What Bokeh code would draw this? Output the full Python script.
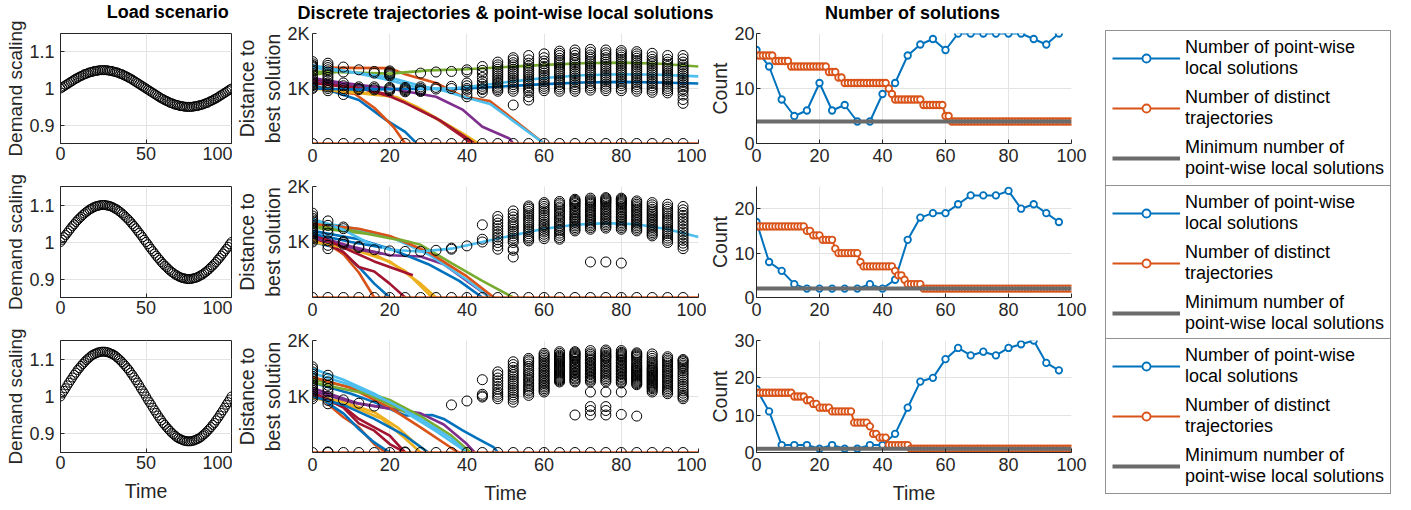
from bokeh.plotting import figure
from bokeh.layouts import row, column
from bokeh.models import Range1d, FixedTicker, Legend, LegendItem, Label
from bokeh.embed import file_html
from bokeh.resources import INLINE

# ------------------------------------------------------------------ data
time_fine = list(range(0, 101))        # every time step
time_coarse = list(range(0, 100, 4))   # steps where local solutions are computed

scenario_titles = ["Load scenario", "Discrete trajectories & point-wise local solutions",
                   "Number of solutions"]

# demand scaling of the three load scenarios
demand_low = [
    1.000, 1.003, 1.006, 1.009, 1.012, 1.015, 1.018, 1.021, 1.024, 1.027, 1.029, 1.032, 1.034,
    1.036, 1.039, 1.040, 1.042, 1.044, 1.045, 1.046, 1.048, 1.048, 1.049, 1.050, 1.050, 1.050,
    1.050, 1.050, 1.049, 1.048, 1.048, 1.046, 1.045, 1.044, 1.042, 1.040, 1.039, 1.036, 1.034,
    1.032, 1.029, 1.027, 1.024, 1.021, 1.018, 1.015, 1.012, 1.009, 1.006, 1.003, 1.000,
    0.997, 0.994, 0.991, 0.988, 0.985, 0.982, 0.979, 0.976, 0.973, 0.971, 0.968, 0.966, 0.964,
    0.961, 0.960, 0.958, 0.956, 0.955, 0.954, 0.952, 0.952, 0.951, 0.950, 0.950, 0.950,
    0.950, 0.950, 0.951, 0.952, 0.952, 0.954, 0.955, 0.956, 0.958, 0.960, 0.961, 0.964, 0.966,
    0.968, 0.971, 0.973, 0.976, 0.979, 0.982, 0.985, 0.988, 0.991, 0.994, 0.997, 1.000]
demand_mid = [
    1.000, 1.006, 1.013, 1.019, 1.025, 1.031, 1.037, 1.043, 1.048, 1.054, 1.059, 1.064, 1.068,
    1.073, 1.077, 1.081, 1.084, 1.088, 1.090, 1.093, 1.095, 1.097, 1.098, 1.099, 1.100, 1.100,
    1.100, 1.099, 1.098, 1.097, 1.095, 1.093, 1.090, 1.088, 1.084, 1.081, 1.077, 1.073, 1.068,
    1.064, 1.059, 1.054, 1.048, 1.043, 1.037, 1.031, 1.025, 1.019, 1.013, 1.006, 1.000,
    0.994, 0.987, 0.981, 0.975, 0.969, 0.963, 0.957, 0.952, 0.946, 0.941, 0.936, 0.932, 0.927,
    0.923, 0.919, 0.916, 0.912, 0.910, 0.907, 0.905, 0.903, 0.902, 0.901, 0.900, 0.900,
    0.900, 0.901, 0.902, 0.903, 0.905, 0.907, 0.910, 0.912, 0.916, 0.919, 0.923, 0.927, 0.932,
    0.936, 0.941, 0.946, 0.952, 0.957, 0.963, 0.969, 0.975, 0.981, 0.987, 0.994, 1.000]
demand_high = [
    1.000, 1.008, 1.015, 1.022, 1.030, 1.037, 1.044, 1.051, 1.058, 1.064, 1.071, 1.076, 1.082,
    1.087, 1.092, 1.097, 1.101, 1.105, 1.109, 1.112, 1.114, 1.116, 1.118, 1.119, 1.120, 1.120,
    1.120, 1.119, 1.118, 1.116, 1.114, 1.112, 1.109, 1.105, 1.101, 1.097, 1.092, 1.087, 1.082,
    1.076, 1.071, 1.064, 1.058, 1.051, 1.044, 1.037, 1.030, 1.022, 1.015, 1.008, 1.000,
    0.992, 0.985, 0.978, 0.970, 0.963, 0.956, 0.949, 0.942, 0.936, 0.929, 0.924, 0.918, 0.913,
    0.908, 0.903, 0.899, 0.895, 0.891, 0.888, 0.886, 0.884, 0.882, 0.881, 0.880, 0.880,
    0.880, 0.881, 0.882, 0.884, 0.886, 0.888, 0.891, 0.895, 0.899, 0.903, 0.908, 0.913, 0.918,
    0.924, 0.929, 0.936, 0.942, 0.949, 0.956, 0.963, 0.970, 0.978, 0.985, 0.992, 1.000]

# number of distinct trajectories at every time step
distinct_low = [
    16, 16, 16, 16, 16, 16, 15, 15, 15, 15, 15,
    14, 14, 14, 14, 14, 14, 14, 14, 14, 14, 14, 14,
    13, 13, 13, 12, 12,
    11, 11, 11, 11, 11, 11, 11, 11, 11, 11, 11, 11, 11, 11,
    10, 9, 8, 8, 8, 8, 8, 8, 8, 8, 8,
    7, 7, 7, 7, 7, 7, 7, 5, 5,
    4, 4, 4, 4, 4, 4, 4, 4, 4, 4, 4, 4, 4, 4, 4, 4, 4, 4, 4, 4,
    4, 4, 4, 4, 4, 4, 4, 4, 4, 4, 4, 4, 4, 4, 4, 4, 4, 4, 4]
distinct_mid = [
    16, 16, 16, 16, 16, 16, 16, 16, 16, 16, 16, 16, 16, 16, 16, 16,
    15, 15, 14, 14, 14, 13, 13, 13, 13, 11,
    10, 10, 10, 10, 10, 10, 10, 8,
    7, 7, 7, 7, 7, 7, 7, 7, 7, 7, 6, 5, 5, 4,
    3, 3, 3, 3, 3,
    2, 2, 2, 2, 2, 2, 2, 2, 2, 2, 2, 2, 2, 2, 2, 2, 2, 2, 2, 2, 2, 2, 2, 2,
    2, 2, 2, 2, 2, 2, 2, 2, 2, 2, 2, 2, 2, 2, 2, 2, 2, 2, 2, 2, 2, 2, 2, 2]
distinct_high = [
    16, 16, 16, 16, 16, 16, 16, 16, 16, 16, 16, 16,
    15, 15, 15, 15, 14, 14, 13, 13, 12, 12, 12, 12,
    11, 11, 11, 11, 11, 11, 11,
    8, 8, 8, 8, 8, 7, 5, 5, 4, 4, 4,
    2, 2, 2, 2, 2, 2, 2,
    1, 1, 1, 1, 1, 1, 1, 1, 1, 1, 1, 1, 1, 1, 1, 1, 1, 1, 1, 1, 1, 1, 1, 1, 1, 1,
    1, 1, 1, 1, 1, 1, 1, 1, 1, 1, 1, 1, 1, 1, 1, 1, 1, 1, 1, 1, 1, 1, 1, 1, 1, 1]

# number of point-wise local solutions (at the coarse steps)
local_count_low = [17, 14, 8, 5, 6, 11, 6, 7, 4, 4, 9, 11, 16, 18, 19, 17, 20, 20, 20, 20, 20, 20, 19, 18, 20]
local_count_mid = [17, 8, 6, 3, 2, 2, 2, 2, 2, 3, 2, 4, 13, 18, 19, 19, 21, 23, 23, 23, 24, 20, 21, 19, 17]
local_count_high = [17, 11, 2, 2, 2, 1, 2, 1, 1, 2, 2, 5, 12, 19, 20, 25, 28, 26, 27, 26, 28, 29, 30, 24, 22]

# minimum number of point-wise local solutions
min_local = [4, 2, 1]

# distance of every point-wise local solution to the best one
local_dist_low = [
    [0, 1000, 1020, 1050, 1070, 1100, 1120, 1150, 1190, 1250, 1310, 1340, 1380, 1400, 1420, 1450, 1490],
    [0, 960, 1000, 1030, 1060, 1100, 1150, 1200, 1250, 1300, 1340, 1380, 1420, 1460],
    [0, 890, 960, 1000, 1050, 1100, 1300, 1390],
    [0, 980, 1000, 1030, 1340],
    [0, 975, 1000, 1030, 1280, 1310],
    [0, 960, 980, 1000, 1020, 1230, 1250, 1270, 1280, 1300, 1320],
    [0, 940, 960, 980, 1000, 1020],
    [0, 945, 960, 975, 1000, 1030, 1280],
    [0, 990, 1020, 1300],
    [0, 1000, 1040, 1310],
    [0, 850, 900, 970, 1000, 1050, 1100, 1300, 1340],
    [0, 930, 980, 1000, 1040, 1080, 1130, 1200, 1280, 1330, 1400],
    [0, 950, 980, 1010, 1040, 1080, 1110, 1150, 1190, 1230, 1270, 1310, 1350, 1390, 1430, 1480],
    [0, 700, 950, 990, 1030, 1070, 1110, 1150, 1190, 1230, 1270, 1310, 1350, 1390, 1430, 1470, 1520, 1560],
    [0, 790, 850, 930, 970, 1010, 1050, 1090, 1130, 1170, 1210, 1250, 1290, 1330, 1370, 1410, 1460, 1520, 1600],
    [0, 960, 1000, 1040, 1080, 1120, 1160, 1200, 1240, 1280, 1320, 1360, 1400, 1450, 1500, 1560, 1630],
    [0, 950, 990, 1030, 1070, 1110, 1150, 1190, 1230, 1270, 1310, 1350, 1390, 1430, 1470, 1510, 1550, 1600, 1640, 1680],
    [0, 950, 990, 1030, 1070, 1110, 1150, 1190, 1230, 1270, 1310, 1350, 1390, 1430, 1470, 1510, 1550, 1600, 1650, 1700],
    [0, 970, 1010, 1050, 1090, 1130, 1170, 1210, 1250, 1290, 1330, 1370, 1410, 1450, 1490, 1530, 1570, 1610, 1660, 1710],
    [0, 960, 1000, 1040, 1080, 1120, 1160, 1200, 1240, 1280, 1320, 1360, 1400, 1440, 1480, 1520, 1560, 1610, 1650, 1700],
    [0, 960, 1000, 1050, 1090, 1130, 1170, 1210, 1250, 1290, 1330, 1370, 1410, 1450, 1490, 1530, 1570, 1610, 1650, 1690],
    [0, 950, 990, 1030, 1070, 1110, 1150, 1190, 1230, 1270, 1310, 1350, 1390, 1430, 1470, 1510, 1550, 1590, 1630, 1670],
    [0, 930, 970, 1010, 1050, 1090, 1130, 1170, 1210, 1250, 1290, 1330, 1370, 1410, 1450, 1490, 1530, 1580, 1640],
    [0, 920, 960, 1000, 1040, 1080, 1120, 1160, 1200, 1240, 1280, 1320, 1360, 1400, 1440, 1480, 1530, 1600],
    [0, 730, 800, 880, 950, 990, 1030, 1070, 1110, 1150, 1190, 1230, 1270, 1310, 1350, 1390, 1430, 1480, 1540, 1600],
]
local_dist_mid = [
    [0, 1000, 1030, 1060, 1090, 1120, 1150, 1180, 1210, 1250, 1290, 1330, 1370, 1400, 1430, 1470, 1520],
    [0, 880, 940, 1020, 1160, 1230, 1300, 1380],
    [0, 960, 990, 1010, 1240, 1270],
    [0, 900, 920],
    [0, 860],
    [0, 840],
    [0, 830],
    [0, 830],
    [0, 850],
    [0, 870, 890],
    [0, 930],
    [0, 1000, 1050, 1310],
    [0, 870, 930, 990, 1040, 1090, 1140, 1190, 1240, 1290, 1340, 1400, 1460],
    [0, 730, 850, 880, 990, 1030, 1070, 1110, 1150, 1190, 1230, 1270, 1310, 1350, 1400, 1450, 1500, 1560],
    [0, 1020, 1050, 1080, 1110, 1150, 1190, 1230, 1270, 1310, 1350, 1390, 1430, 1470, 1510, 1550, 1590, 1620, 1650],
    [0, 1060, 1100, 1140, 1180, 1210, 1250, 1290, 1320, 1360, 1400, 1440, 1480, 1520, 1560, 1600, 1640, 1680, 1710],
    [0, 1050, 1080, 1120, 1160, 1200, 1230, 1270, 1300, 1340, 1380, 1410, 1450, 1490, 1520, 1560, 1600, 1630, 1670, 1700, 1730],
    [0, 1200, 1230, 1260, 1290, 1320, 1350, 1380, 1410, 1430, 1460, 1490, 1520, 1550, 1580, 1610, 1640, 1660, 1690, 1710, 1730, 1750, 1770],
    [0, 640, 1230, 1260, 1290, 1320, 1350, 1380, 1410, 1440, 1470, 1500, 1530, 1560, 1590, 1620, 1650, 1680, 1700, 1720, 1740, 1760, 1790],
    [0, 640, 1250, 1280, 1310, 1340, 1370, 1400, 1430, 1460, 1490, 1520, 1550, 1580, 1610, 1640, 1670, 1700, 1720, 1740, 1760, 1780, 1800],
    [0, 620, 1230, 1260, 1290, 1320, 1350, 1380, 1410, 1440, 1460, 1490, 1520, 1550, 1580, 1610, 1640, 1670, 1690, 1710, 1730, 1750, 1770, 1790],
    [0, 1200, 1230, 1260, 1290, 1320, 1350, 1380, 1410, 1440, 1470, 1500, 1530, 1560, 1590, 1620, 1650, 1680, 1710, 1740],
    [0, 1110, 1140, 1170, 1200, 1230, 1260, 1290, 1320, 1350, 1380, 1410, 1440, 1470, 1500, 1530, 1560, 1590, 1630, 1670, 1710],
    [0, 990, 1030, 1070, 1110, 1150, 1190, 1230, 1270, 1310, 1350, 1390, 1430, 1470, 1510, 1550, 1590, 1630, 1680],
    [0, 880, 930, 980, 1030, 1080, 1130, 1180, 1230, 1280, 1330, 1380, 1430, 1480, 1530, 1580, 1640],
]
local_dist_high = [
    [0, 960, 1000, 1040, 1080, 1110, 1140, 1170, 1200, 1240, 1280, 1320, 1360, 1400, 1440, 1490, 1530],
    [0, 10, 870, 930, 1000, 1080, 1140, 1200, 1260, 1320, 1380],
    [0, 940],
    [0, 880],
    [0, 830],
    [0],
    [0, 10],
    [0],
    [0],
    [0, 850],
    [0, 920],
    [0, 990, 1010, 1040, 1300],
    [0, 960, 1000, 1040, 1080, 1130, 1180, 1230, 1280, 1330, 1390, 1440],
    [0, 900, 950, 990, 1030, 1070, 1110, 1150, 1190, 1230, 1270, 1310, 1350, 1390, 1430, 1470, 1520, 1570, 1620],
    [0, 1020, 1060, 1100, 1130, 1170, 1200, 1240, 1280, 1310, 1350, 1390, 1420, 1460, 1500, 1540, 1580, 1620, 1650, 1680],
    [0, 1080, 1110, 1140, 1170, 1200, 1230, 1260, 1290, 1320, 1350, 1380, 1410, 1440, 1470, 1500, 1530, 1560, 1590,
     1620, 1650, 1680, 1710, 1740, 1770],
    [0, 1260, 1280, 1300, 1320, 1340, 1360, 1380, 1400, 1420, 1440, 1460, 1480, 1500, 1520, 1540, 1560, 1580, 1600,
     1620, 1640, 1660, 1680, 1700, 1720, 1740, 1770, 1800],
    [0, 670, 1260, 1280, 1310, 1330, 1360, 1380, 1410, 1430, 1460, 1480, 1510, 1530, 1560, 1580, 1610, 1630, 1660,
     1680, 1700, 1720, 1740, 1760, 1780, 1800],
    [0, 670, 750, 820, 1080, 1260, 1290, 1310, 1340, 1360, 1390, 1410, 1440, 1460, 1490, 1510, 1540, 1560, 1590,
     1610, 1640, 1660, 1690, 1720, 1750, 1780, 1820],
    [0, 670, 750, 820, 1080, 1260, 1290, 1320, 1350, 1380, 1410, 1440, 1470, 1500, 1530, 1560, 1590, 1620, 1650,
     1680, 1700, 1720, 1740, 1770, 1800, 1830],
    [0, 680, 1080, 1240, 1260, 1290, 1310, 1340, 1360, 1390, 1410, 1440, 1460, 1490, 1510, 1540, 1560, 1590, 1610,
     1640, 1660, 1690, 1710, 1730, 1750, 1770, 1790, 1820],
    [0, 650, 1210, 1230, 1250, 1270, 1290, 1310, 1330, 1350, 1370, 1390, 1410, 1430, 1450, 1470, 1490, 1510, 1530,
     1550, 1580, 1610, 1640, 1670, 1700, 1720, 1740, 1760, 1780],
    [0, 1080, 1110, 1140, 1160, 1180, 1200, 1220, 1240, 1260, 1280, 1300, 1320, 1340, 1360, 1380, 1400, 1420, 1440,
     1460, 1480, 1500, 1520, 1550, 1580, 1610, 1640, 1680, 1720, 1760],
    [0, 1050, 1080, 1110, 1140, 1170, 1200, 1230, 1260, 1290, 1320, 1350, 1380, 1410, 1440, 1470, 1500, 1530, 1560,
     1590, 1620, 1650, 1680, 1710],
    [0, 960, 990, 1020, 1060, 1100, 1140, 1180, 1220, 1260, 1300, 1340, 1380, 1420, 1460, 1500, 1530, 1560, 1590,
     1620, 1640, 1660],
]

# discrete trajectories: knot times and distance to the best solution (last one is the best itself)
traj_t_low = [
    [0, 10, 20, 30, 40, 50, 60, 70, 80, 90, 100],
    [0, 20, 24, 32, 39, 46, 60],
    [0, 13, 20, 27, 39, 43],
    [0, 8, 20, 32, 39, 44, 51, 52],
    [0, 10, 20, 30, 40, 50, 60, 70, 80, 90, 100],
    [0, 10, 20, 28, 36, 44, 52, 60, 70, 80, 90, 100],
    [0, 13, 20, 24, 27, 32, 39, 41],
    [0, 12, 19, 24, 27],
    [0, 11, 16, 21, 24],
    [0, 14, 22, 28, 38, 43],
    [0, 11],
    [0, 6],
    [0, 12, 20, 28, 34, 40, 46, 60],
    [0, 13, 20, 24, 28, 33, 40, 42],
    [0, 12, 23],
    [0, 100],
]
traj_d_low = [
    [1150, 1040, 990, 990, 1000, 1040, 1080, 1110, 1120, 1110, 1090],
    [1380, 1370, 1260, 1100, 850, 770, 0],
    [1040, 920, 880, 670, 180, 0],
    [1190, 1100, 1000, 850, 610, 305, 90, 0],
    [1310, 1290, 1270, 1330, 1350, 1390, 1430, 1460, 1470, 1450, 1400],
    [1420, 1300, 1150, 1000, 1000, 1060, 1130, 1190, 1240, 1260, 1250, 1220],
    [1150, 1000, 880, 760, 640, 460, 120, 0],
    [1070, 790, 430, 210, 0],
    [1020, 900, 650, 300, 0],
    [1000, 900, 840, 620, 200, 0],
    [1120, 1075],
    [1250, 1300],
    [1380, 1280, 1200, 1050, 960, 830, 720, 0],
    [1100, 990, 860, 740, 600, 420, 100, 0],
    [1000, 980, 990],
    [0, 0],
]
traj_t_mid = [
    [0, 6, 12, 16, 20],
    [0, 4, 8, 12, 16],
    [0, 8, 16, 24, 31],
    [0, 10, 20, 28, 34, 40, 46],
    [0, 12, 20, 28, 36, 44, 52],
    [0, 12, 20, 30, 40, 46],
    [0, 8, 12, 16, 20, 24],
    [0, 12, 20, 30, 38, 44],
    [0, 12, 20, 30, 40, 47],
    [0, 10, 20, 28, 32],
    [0, 12, 18],
    [0, 14, 25],
    [0, 8, 14, 20, 28, 36, 44, 52, 60, 68, 76, 84, 92, 100],
    [0, 8, 16, 26],
    [0, 10, 18],
    [0, 100],
]
traj_d_mid = [
    [1000, 900, 550, 250, 0],
    [1050, 960, 780, 450, 0],
    [1050, 960, 780, 480, 0],
    [1130, 920, 760, 740, 600, 300, 0],
    [1290, 1200, 1090, 950, 620, 300, 0],
    [1380, 1230, 1100, 780, 320, 0],
    [1100, 820, 550, 470, 250, 0],
    [1200, 1050, 880, 600, 300, 0],
    [1330, 1240, 1110, 820, 380, 0],
    [1000, 880, 650, 250, 0],
    [1080, 860, 790],
    [1260, 1150, 1000],
    [1420, 1220, 1000, 860, 830, 880, 1000, 1120, 1240, 1310, 1340, 1320, 1230, 1090],
    [1150, 900, 650, 400],
    [1150, 1000, 900],
    [0, 0],
]
traj_t_high = [
    [0, 10, 16, 20, 24, 31, 34, 39, 43, 47, 48],
    [0, 8, 12, 16, 19],
    [0, 8, 16, 22, 26, 30],
    [0, 12, 18, 28, 34, 40, 42],
    [0, 10, 20, 28, 36, 41],
    [0, 8, 16, 24, 32, 38, 40],
    [0, 8, 12, 16, 20, 24],
    [0, 8, 12, 16, 20],
    [0, 10, 20, 28, 36, 38],
    [0, 10, 18, 24, 28],
    [0, 10, 20],
    [0, 14, 24],
    [0, 10, 20, 28, 36, 40],
    [0, 8, 12, 20, 24],
    [0, 8, 16, 24, 30],
    [0, 100],
]
traj_d_high = [
    [1250, 1050, 900, 780, 660, 670, 600, 390, 240, 90, 0],
    [1100, 630, 450, 150, 0],
    [1020, 900, 720, 450, 200, 0],
    [1150, 870, 810, 700, 500, 150, 0],
    [1300, 1170, 940, 650, 300, 0],
    [1500, 1300, 1050, 720, 380, 100, 0],
    [1080, 800, 520, 390, 150, 0],
    [1060, 700, 420, 180, 0],
    [1350, 1150, 800, 450, 80, 0],
    [980, 830, 600, 250, 0],
    [1100, 900, 780],
    [1250, 1050, 720],
    [1420, 1200, 900, 600, 250, 0],
    [1040, 820, 600, 300, 0],
    [1000, 850, 600, 300, 0],
    [0, 0],
]

demand_rows = [demand_low, demand_mid, demand_high]
distinct_rows = [distinct_low, distinct_mid, distinct_high]
local_count_rows = [local_count_low, local_count_mid, local_count_high]
local_dist_rows = [local_dist_low, local_dist_mid, local_dist_high]
traj_t_rows = [traj_t_low, traj_t_mid, traj_t_high]
traj_d_rows = [traj_d_low, traj_d_mid, traj_d_high]
count_max = [20, 25, 30]
count_ticks = [[0, 10, 20], [0, 10, 20], [0, 10, 20, 30]]

# ------------------------------------------------------------------ style
FONT = "Liberation Sans"
INK = "#262626"
GRID = "#e3e3e3"
COLORS = ["#0072BD", "#D95319", "#EDB120", "#7E2F8E", "#77AC30", "#4DBEEE", "#A2142F"]
BLUE, ORANGE = COLORS[0], COLORS[1]
GRAY = "#6b6b6b"

# first column: short title strip plus its own stack of rows
C1_TITLE_H = 20
C1_H = [148, 155, 187]
C1_TOP = [13, 18, 17]
C1_BOTTOM = [25, 26, 58]
# second and third column: title strip plus rows
TITLE_H = 22
C23_H = [150, 154, 184]
C23_TOP = [11, 14, 14]
C23_BOTTOM = [29, 29, 58]

COL_W = [232, 474, 394]
COL_LEFT = [60, 80, 47]
COL_RIGHT = [1, 8, 29]
Y_LABEL_STANDOFF = [6, 3, 2]
X_LABEL_STANDOFF = [3, 5, 5]
Y_TITLE_SIZE = ["19px", "19.5px", "19.5px"]


def base_fig(c, height, top, bottom, x_range, y_range, with_time):
    p = figure(width=COL_W[c], height=height, x_range=x_range, y_range=y_range,
               output_backend="svg", toolbar_location=None,
               min_border_left=COL_LEFT[c], min_border_right=COL_RIGHT[c],
               min_border_top=top, min_border_bottom=bottom)
    p.border_fill_color = "white"
    p.background_fill_color = "white"
    p.outline_line_color = None
    for ax in (p.xaxis[0], p.yaxis[0]):
        ax.axis_line_color = INK
        ax.axis_line_width = 1
        ax.major_tick_line_color = INK
        ax.major_tick_in = 4
        ax.major_tick_out = 0
        ax.minor_tick_line_color = None
        ax.major_label_text_font = FONT
        ax.major_label_text_font_size = "18px"
        ax.major_label_text_color = INK
        ax.axis_label_text_font = FONT
        ax.axis_label_text_font_size = "19.5px"
        ax.axis_label_text_font_style = "normal"
        ax.axis_label_text_color = INK
    p.yaxis.axis_label_text_font_size = Y_TITLE_SIZE[c]
    p.xaxis.major_label_standoff = X_LABEL_STANDOFF[c]
    p.yaxis.major_label_standoff = Y_LABEL_STANDOFF[c]
    p.xaxis.axis_label_standoff = 8
    p.yaxis.axis_label_standoff = 0
    p.grid.grid_line_color = GRID
    p.grid.grid_line_width = 1
    if with_time:
        p.xaxis.axis_label = "Time"
    return p


def title_strip(width, height, centres, texts, centre_from_top):
    s = figure(width=width, height=height, x_range=Range1d(0, width), y_range=Range1d(0, height),
               x_axis_type=None, y_axis_type=None, output_backend="svg",
               toolbar_location=None, min_border=0)
    s.outline_line_color = None
    s.border_fill_color = "white"
    for xc, txt in zip(centres, texts):
        s.add_layout(Label(x=xc, y=height - centre_from_top, text=txt,
                           text_align="center", text_baseline="middle",
                           text_font=FONT, text_font_size="18px", text_font_style="bold",
                           text_color="black"))
    return s


# ---- column 1: load scenarios
col1 = [title_strip(COL_W[0], C1_TITLE_H,
                    [COL_LEFT[0] + (COL_W[0] - COL_LEFT[0] - COL_RIGHT[0]) / 2],
                    [scenario_titles[0]], 11.5)]
for r in range(3):
    p1 = base_fig(0, C1_H[r], C1_TOP[r], C1_BOTTOM[r], Range1d(0, 100), Range1d(0.85, 1.15), r == 2)
    p1.outline_line_color = INK
    p1.xaxis.ticker = FixedTicker(ticks=[0, 50, 100])
    p1.yaxis.ticker = FixedTicker(ticks=[0.9, 1, 1.1])
    p1.yaxis.major_label_overrides = {0.9: "0.9", 1: "1", 1.1: "1.1"}
    p1.yaxis.axis_label = "Demand scaling"
    p1.scatter(time_fine, demand_rows[r], marker="circle", size=9,
               fill_color=None, line_color="black", line_width=1)
    col1.append(p1)

# ---- columns 2 and 3
centres = [COL_LEFT[1] + (COL_W[1] - COL_LEFT[1] - COL_RIGHT[1]) / 2,
           COL_W[1] + COL_LEFT[2] + (COL_W[2] - COL_LEFT[2] - COL_RIGHT[2]) / 2]
col23 = [title_strip(COL_W[1] + COL_W[2], TITLE_H, centres, scenario_titles[1:], 12)]
for r in range(3):
    # trajectories and point-wise local solutions
    p2 = base_fig(1, C23_H[r], C23_TOP[r], C23_BOTTOM[r], Range1d(0, 100), Range1d(0, 2000), r == 2)
    p2.xaxis.ticker = FixedTicker(ticks=[0, 20, 40, 60, 80, 100])
    p2.yaxis.ticker = FixedTicker(ticks=[1000, 2000])
    p2.yaxis.major_label_overrides = {1000: "1K", 2000: "2K"}
    p2.yaxis.axis_label = "Distance to\nbest solution"
    for i, (tt, dd) in enumerate(zip(traj_t_rows[r], traj_d_rows[r])):
        p2.line(tt, dd, line_color=COLORS[i % len(COLORS)], line_width=2.6)
    xs = [t for t, sols in zip(time_coarse, local_dist_rows[r]) for _ in sols]
    ys = [d for sols in local_dist_rows[r] for d in sols]
    p2.scatter(xs, ys, marker="circle", size=10, fill_color=None,
               line_color="black", line_width=1)

    # solution counts
    p3 = base_fig(2, C23_H[r], C23_TOP[r], C23_BOTTOM[r], Range1d(0, 100), Range1d(0, count_max[r]), r == 2)
    p3.xaxis.ticker = FixedTicker(ticks=[0, 20, 40, 60, 80, 100])
    p3.yaxis.ticker = FixedTicker(ticks=count_ticks[r])
    p3.yaxis.axis_label = "Count"
    p3.line(time_coarse, local_count_rows[r], line_color=BLUE, line_width=2)
    p3.scatter(time_coarse, local_count_rows[r], marker="circle", size=6.5,
               fill_color="white", line_color=BLUE, line_width=1.8)
    p3.line(time_fine, distinct_rows[r], line_color=ORANGE, line_width=2)
    p3.scatter(time_fine, distinct_rows[r], marker="circle", size=6.5,
               fill_color="white", line_color=ORANGE, line_width=1.8)
    p3.line([time_fine[0], time_fine[-1]], [min_local[r], min_local[r]],
            line_color=GRAY, line_width=4)

    col23.append(row(p2, p3))

# ------------------------------------------------------------------ legends
leg = figure(width=311, height=510, x_range=Range1d(0, 1), y_range=Range1d(0, 1),
             x_axis_type=None, y_axis_type=None, output_backend="svg",
             toolbar_location=None, min_border=0)
leg.outline_line_color = None
leg.border_fill_color = "white"
nan = [float("nan")]
lb = leg.line(nan, nan, line_color=BLUE, line_width=2)
lbm = leg.scatter(nan, nan, marker="circle", size=6.5, fill_color="white", line_color=BLUE, line_width=1.8)
lo = leg.line(nan, nan, line_color=ORANGE, line_width=2)
lom = leg.scatter(nan, nan, marker="circle", size=6.5, fill_color="white", line_color=ORANGE, line_width=1.8)
lg = leg.line(nan, nan, line_color=GRAY, line_width=4)

legend_bottoms = [324, 169, 16]
for yb in legend_bottoms:
    L = Legend(items=[
        LegendItem(label="Number of point-wise\nlocal solutions", renderers=[lb, lbm]),
        LegendItem(label="Number of distinct\ntrajectories", renderers=[lo, lom]),
        LegendItem(label="Minimum number of\npoint-wise local solutions", renderers=[lg]),
    ], location=(5, yb))
    L.label_text_font = FONT
    L.label_text_font_size = "18px"
    L.label_text_color = "black"
    L.glyph_width = 68
    L.glyph_height = 20
    L.label_standoff = 5
    L.padding = 6
    L.spacing = 8
    L.margin = 0
    L.border_line_color = INK
    L.border_line_width = 1
    L.background_fill_alpha = 1
    leg.add_layout(L)

layout = row(column(*col1), column(*col23), leg)
open("out.html", "w").write(file_html(layout, INLINE))
